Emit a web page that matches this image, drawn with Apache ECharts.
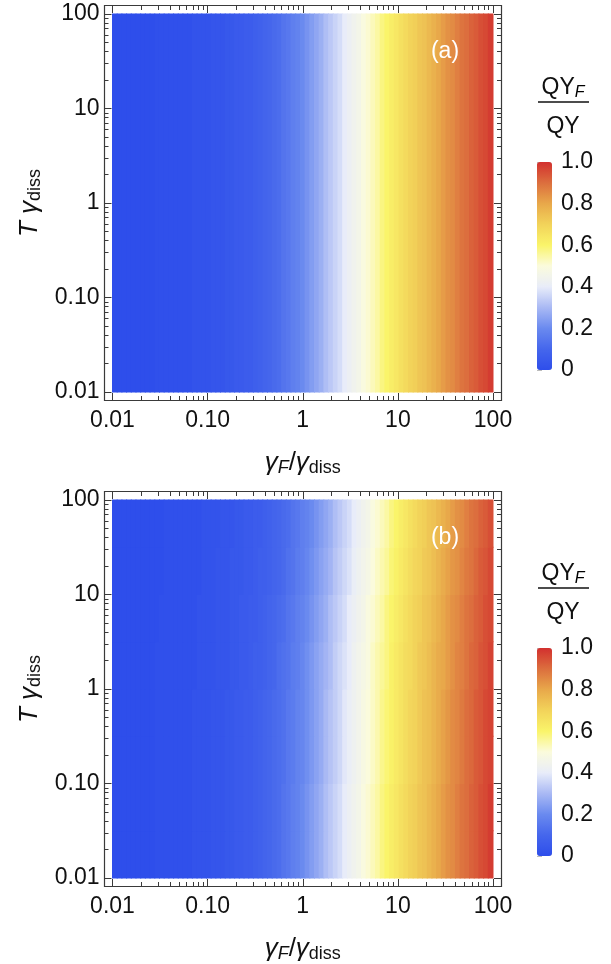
<!DOCTYPE html>
<html>
<head>
<meta charset="utf-8">
<title>QY_F / QY maps</title>
<script src="https://cdn.jsdelivr.net/npm/echarts@6.0.0/dist/echarts.min.js"></script>
<style>
html, body { margin: 0; padding: 0; background: #fff; }
#chart { width: 611px; height: 964px; }
</style>
</head>
<body>
<div id="chart"></div>
<script>
// log10 of gamma_F/gamma_diss, 0.05 decade steps from -2 to 2
var xLogs = [];
for (var i = 0; i <= 80; i++) xLogs.push((-2 + i * 0.05).toFixed(2));

// tick values (both axes are log 0.01 .. 100)
var majorTicks = [0.01, 0.1, 1, 10, 100];
var minorTicks = [0.02, 0.03, 0.04, 0.05, 0.06, 0.07, 0.08, 0.09,
                  0.2, 0.3, 0.4, 0.5, 0.6, 0.7, 0.8, 0.9,
                  2, 3, 4, 5, 6, 7, 8, 9,
                  20, 30, 40, 50, 60, 70, 80, 90];
var tickLabels = ['0.01', '0.10', '1', '10', '100'];
var barLabels = ['0', '0.2', '0.4', '0.6', '0.8', '1.0'];

// panel (a): QY_F/QY does not depend on T gamma_diss
var qyA = [0.00,0.00,0.00,0.00,0.00,0.00,0.00,0.00,0.00,0.01,
           0.01,0.01,0.01,0.01,0.01,0.01,0.01,0.02,0.02,0.02,
           0.02,0.03,0.03,0.03,0.04,0.04,0.05,0.05,0.06,0.06,
           0.07,0.08,0.09,0.10,0.11,0.12,0.14,0.15,0.17,0.18,
           0.20,0.22,0.24,0.26,0.28,0.31,0.33,0.35,0.37,0.40,
           0.42,0.44,0.46,0.49,0.51,0.53,0.55,0.58,0.60,0.62,
           0.64,0.66,0.68,0.70,0.71,0.73,0.74,0.76,0.78,0.80,
           0.82,0.84,0.85,0.87,0.89,0.90,0.92,0.93,0.95,0.96,
           0.98];

// panel (b): profiles drift to the right as T gamma_diss grows
var qyB0 = [0.00,0.00,0.00,0.00,0.00,0.00,0.00,0.00,0.00,0.01,   // T 0.01 - 0.1
            0.01,0.01,0.01,0.01,0.01,0.01,0.01,0.02,0.02,0.02,
            0.02,0.03,0.03,0.03,0.04,0.04,0.05,0.05,0.06,0.06,
            0.07,0.08,0.09,0.10,0.11,0.12,0.14,0.15,0.17,0.18,
            0.20,0.22,0.24,0.26,0.28,0.31,0.33,0.35,0.37,0.40,
            0.42,0.44,0.46,0.49,0.51,0.53,0.55,0.58,0.60,0.62,
            0.64,0.66,0.68,0.70,0.71,0.73,0.74,0.76,0.78,0.80,
            0.82,0.84,0.85,0.87,0.89,0.90,0.92,0.93,0.95,0.96,
            0.98];
var qyB1 = [0.00,0.00,0.00,0.00,0.00,0.00,0.00,0.00,0.00,0.01,   // T 0.1 - 1
            0.01,0.01,0.01,0.01,0.01,0.01,0.01,0.02,0.02,0.02,
            0.02,0.03,0.03,0.03,0.04,0.04,0.05,0.05,0.06,0.06,
            0.07,0.08,0.09,0.10,0.11,0.12,0.13,0.15,0.16,0.18,
            0.19,0.21,0.23,0.25,0.27,0.30,0.32,0.34,0.36,0.39,
            0.41,0.43,0.45,0.48,0.50,0.52,0.54,0.57,0.59,0.61,
            0.63,0.65,0.67,0.69,0.70,0.72,0.74,0.75,0.77,0.79,
            0.81,0.83,0.85,0.86,0.88,0.90,0.91,0.93,0.94,0.96,
            0.97];
var qyB2 = [0.00,0.00,0.00,0.00,0.00,0.00,0.00,0.00,0.00,0.01,   // T 1 - 3
            0.01,0.01,0.01,0.01,0.01,0.01,0.01,0.01,0.02,0.02,
            0.02,0.02,0.03,0.03,0.03,0.04,0.04,0.05,0.05,0.06,
            0.07,0.07,0.08,0.09,0.10,0.12,0.13,0.14,0.16,0.17,
            0.19,0.21,0.23,0.25,0.27,0.29,0.31,0.34,0.36,0.38,
            0.40,0.43,0.45,0.47,0.49,0.52,0.54,0.56,0.58,0.61,
            0.63,0.65,0.67,0.68,0.70,0.72,0.73,0.75,0.77,0.79,
            0.80,0.82,0.84,0.86,0.87,0.89,0.91,0.92,0.94,0.95,
            0.97];
var qyB3 = [0.00,0.00,0.00,0.00,0.00,0.00,0.00,0.00,0.00,0.00,   // T 3 - 10
            0.01,0.01,0.01,0.01,0.01,0.01,0.01,0.01,0.02,0.02,
            0.02,0.02,0.03,0.03,0.03,0.04,0.04,0.05,0.05,0.06,
            0.06,0.07,0.08,0.09,0.10,0.11,0.12,0.14,0.15,0.17,
            0.18,0.20,0.22,0.24,0.26,0.28,0.31,0.33,0.35,0.37,
            0.40,0.42,0.44,0.46,0.49,0.51,0.53,0.55,0.58,0.60,
            0.62,0.64,0.66,0.68,0.70,0.71,0.73,0.74,0.76,0.78,
            0.80,0.82,0.84,0.85,0.87,0.89,0.90,0.92,0.93,0.95,
            0.96];
var qyB4 = [0.00,0.00,0.00,0.00,0.00,0.00,0.00,0.00,0.00,0.00,   // T 10 - 30
            0.00,0.01,0.01,0.01,0.01,0.01,0.01,0.01,0.01,0.02,
            0.02,0.02,0.03,0.03,0.03,0.04,0.04,0.04,0.05,0.05,
            0.06,0.07,0.07,0.08,0.09,0.10,0.11,0.13,0.14,0.16,
            0.17,0.19,0.21,0.23,0.25,0.27,0.29,0.32,0.34,0.36,
            0.38,0.41,0.43,0.45,0.47,0.50,0.52,0.54,0.56,0.59,
            0.61,0.63,0.65,0.67,0.69,0.70,0.72,0.73,0.75,0.77,
            0.79,0.81,0.83,0.84,0.86,0.88,0.89,0.91,0.93,0.94,
            0.96];
var qyB5 = [0.00,0.00,0.00,0.00,0.00,0.00,0.00,0.00,0.00,0.00,   // T 30 - 100
            0.00,0.01,0.01,0.01,0.01,0.01,0.01,0.01,0.01,0.02,
            0.02,0.02,0.02,0.03,0.03,0.03,0.04,0.04,0.05,0.05,
            0.06,0.06,0.07,0.08,0.09,0.10,0.11,0.12,0.14,0.15,
            0.17,0.18,0.20,0.22,0.24,0.26,0.28,0.31,0.33,0.35,
            0.37,0.40,0.42,0.44,0.46,0.49,0.51,0.53,0.55,0.58,
            0.60,0.62,0.64,0.66,0.68,0.70,0.71,0.73,0.74,0.76,
            0.78,0.80,0.82,0.84,0.85,0.87,0.89,0.90,0.92,0.93,
            0.95];
// half-decade rows of T gamma_diss, bottom to top
var yBandsB = ['0.01-0.03', '0.03-0.1', '0.1-0.3', '0.3-1', '1-3', '3-10', '10-30', '30-100'];
var rowsB = [qyB0, qyB0, qyB1, qyB1, qyB2, qyB3, qyB4, qyB5];

// temperature-like colour map, blue -> white -> yellow -> red
var cmap = ['#2e4eeb', '#4566ec', '#6a8aef', '#a9b9f4', '#e8ecf9', '#fbfbdc',
            '#faf46a', '#f2d35a', '#e8a84a', '#dc6e3e', '#d2302e'];

var FONT = '"Liberation Sans", Arial, Helvetica, sans-serif';
var INK = '#111';
var TICK = '#3a3a3a';

var heatA = [];
for (var i = 0; i < qyA.length; i++) heatA.push([i, 0, qyA[i]]);
var heatB = [];
rowsB.forEach(function (row, j) {
	for (var i = 0; i < row.length; i++) heatB.push([i, j, row[i]]);
});

function decadeLabel(v) {
	var k = Math.round(Math.log(v) / Math.LN10) + 2;
	return tickLabels[k] || '';
}

// cells drawn as opaque rects that overlap half a pixel, so no seams show
function renderCell(params, api) {
	var c = api.coord([api.value(0), api.value(1)]);
	var s = api.size([1, 1]);
	return {
		type: 'rect',
		shape: { x: c[0] - s[0] / 2 - 0.5, y: c[1] - s[1] / 2 - 0.5, width: s[0] + 1, height: s[1] + 1 },
		style: { fill: api.visual('color') }
	};
}

var nameRich = {
	i: { fontFamily: FONT, fontSize: 26, fontStyle: 'italic', color: INK },
	n: { fontFamily: FONT, fontSize: 26, color: INK },
	si: { fontFamily: FONT, fontSize: 18, fontStyle: 'italic', color: INK, verticalAlign: 'bottom', padding: [11, 0, 0, 0] },
	s: { fontFamily: FONT, fontSize: 18, color: INK, verticalAlign: 'bottom', padding: [11, 0, 0, 0] }
};

var option = {
	animation: false,
	backgroundColor: '#fff',
	grid: [],
	xAxis: [],
	yAxis: [],
	visualMap: [],
	series: [],
	graphic: []
};

// hidden category axis that only places the cells
function cellAxis(gridIndex, cats) {
	return {
		type: 'category', gridIndex: gridIndex, data: cats, show: false,
		axisLine: { show: false }, axisTick: { show: false },
		axisLabel: { show: false }, splitLine: { show: false }, splitArea: { show: false }
	};
}

function logAxis(dim, gridIndex, pos, major, withLabel, withName) {
	var ax = {
		type: 'log',
		gridIndex: gridIndex,
		position: pos,
		offset: 8,
		min: 0.01,
		max: 100,
		logBase: 10,
		axisLine: { show: false },
		splitLine: { show: false },
		axisTick: {
			show: true,
			inside: true,
			length: major ? 7 : 4,
			customValues: major ? majorTicks : minorTicks,
			lineStyle: { color: TICK, width: 1 }
		},
		axisLabel: {
			show: withLabel,
			customValues: majorTicks,
			formatter: decadeLabel,
			fontFamily: FONT,
			fontSize: 23,
			color: INK,
			margin: dim === 'x' ? 9 : 5
		}
	};
	if (withName) {
		ax.nameLocation = 'middle';
		ax.nameTextStyle = { rich: nameRich };
		if (dim === 'x') {
			ax.name = '{i|γ}{si|F}{n|/}{i|γ}{s|diss}';
			ax.nameGap = 48;
		} else {
			ax.name = '{i|T}{i| γ}{s|diss}';
			ax.nameGap = 60;
			ax.nameRotate = 90;
		}
	}
	return ax;
}

// one panel: colour map + framed log axes + colour bar
function addPanel(p, dy, yCats, heat, tag) {
	var g = option.grid.length;
	var xa = option.xAxis.length;
	var ya = option.yAxis.length;
	option.grid.push({ left: 112.5, top: 14 + dy, width: 380.5, height: 378 });
	option.grid.push({ left: 537, top: 162 + dy, width: 15, height: 208 });

	option.xAxis.push(cellAxis(g, xLogs));
	option.xAxis.push(logAxis('x', g, 'bottom', true, true, true));
	option.xAxis.push(logAxis('x', g, 'bottom', false, false, false));
	option.xAxis.push(logAxis('x', g, 'top', true, false, false));
	option.xAxis.push(logAxis('x', g, 'top', false, false, false));
	option.xAxis.push({ type: 'value', gridIndex: g + 1, show: false, min: 0, max: 1, splitLine: { show: false } });

	option.yAxis.push(cellAxis(g, yCats));
	option.yAxis.push(logAxis('y', g, 'left', true, true, true));
	option.yAxis.push(logAxis('y', g, 'left', false, false, false));
	option.yAxis.push(logAxis('y', g, 'right', true, false, false));
	option.yAxis.push(logAxis('y', g, 'right', false, false, false));
	option.yAxis.push({
		type: 'value', gridIndex: g + 1, position: 'right', min: 0, max: 1, interval: 0.2,
		axisLine: { show: false },
		splitLine: { show: false },
		axisTick: { show: true, length: 5, lineStyle: { color: '#bbb' } },
		minorTick: { show: true, splitNumber: 2, length: 3, lineStyle: { color: '#ccc' } },
		axisLabel: {
			fontFamily: FONT, fontSize: 23, color: INK, margin: 9,
			formatter: function (v) {
				var k = Math.round(v * 5);
				return barLabels[k];
			}
		}
	});

	option.series.push({
		type: 'custom',
		xAxisIndex: xa,
		yAxisIndex: ya,
		data: heat,
		encode: { x: 0, y: 1 },
		renderItem: renderCell,
		silent: true
	});

	option.visualMap.push({
		type: 'continuous',
		seriesIndex: p,
		dimension: 2,
		min: 0,
		max: 1,
		calculable: false,
		left: 537,
		top: 162 + dy,
		itemWidth: 15,
		itemHeight: 208,
		padding: 0,
		inRange: { color: cmap }
	});

	// frame
	option.graphic.push({
		type: 'rect', z: 100,
		shape: { x: 104.5, y: 5.5 + dy, width: 397, height: 395 },
		style: { fill: 'none', stroke: TICK, lineWidth: 1.2 },
		silent: true
	});
	// panel tag
	option.graphic.push({
		type: 'text', z: 100,
		x: 445, y: 52 + dy,
		style: { text: tag, fill: '#fff', font: '23px ' + FONT, textAlign: 'center', textVerticalAlign: 'middle' }
	});
	// colour bar title QY_F / QY
	option.graphic.push({
		type: 'text', z: 100,
		x: 563, y: 88 + dy,
		style: {
			text: '{n|QY}{s|F}',
			textAlign: 'center', textVerticalAlign: 'middle',
			rich: {
				n: { fontFamily: FONT, fontSize: 23, fill: INK, color: INK },
				s: { fontFamily: FONT, fontSize: 16, fontStyle: 'italic', color: INK, verticalAlign: 'bottom', padding: [10, 0, 0, 0] }
			}
		}
	});
	option.graphic.push({
		type: 'line', z: 100,
		shape: { x1: 538, y1: 102 + dy, x2: 589, y2: 102 + dy },
		style: { stroke: INK, lineWidth: 1.5 }
	});
	option.graphic.push({
		type: 'text', z: 100,
		x: 563, y: 127 + dy,
		style: { text: 'QY', fill: INK, font: '23px ' + FONT, textAlign: 'center', textVerticalAlign: 'middle' }
	});
}

addPanel(0, 0, ['all'], heatA, '(a)');
addPanel(1, 486, yBandsB, heatB, '(b)');

var chart = echarts.init(document.getElementById('chart'), null, { renderer: 'canvas' });
chart.setOption(option);
</script>
</body>
</html>
